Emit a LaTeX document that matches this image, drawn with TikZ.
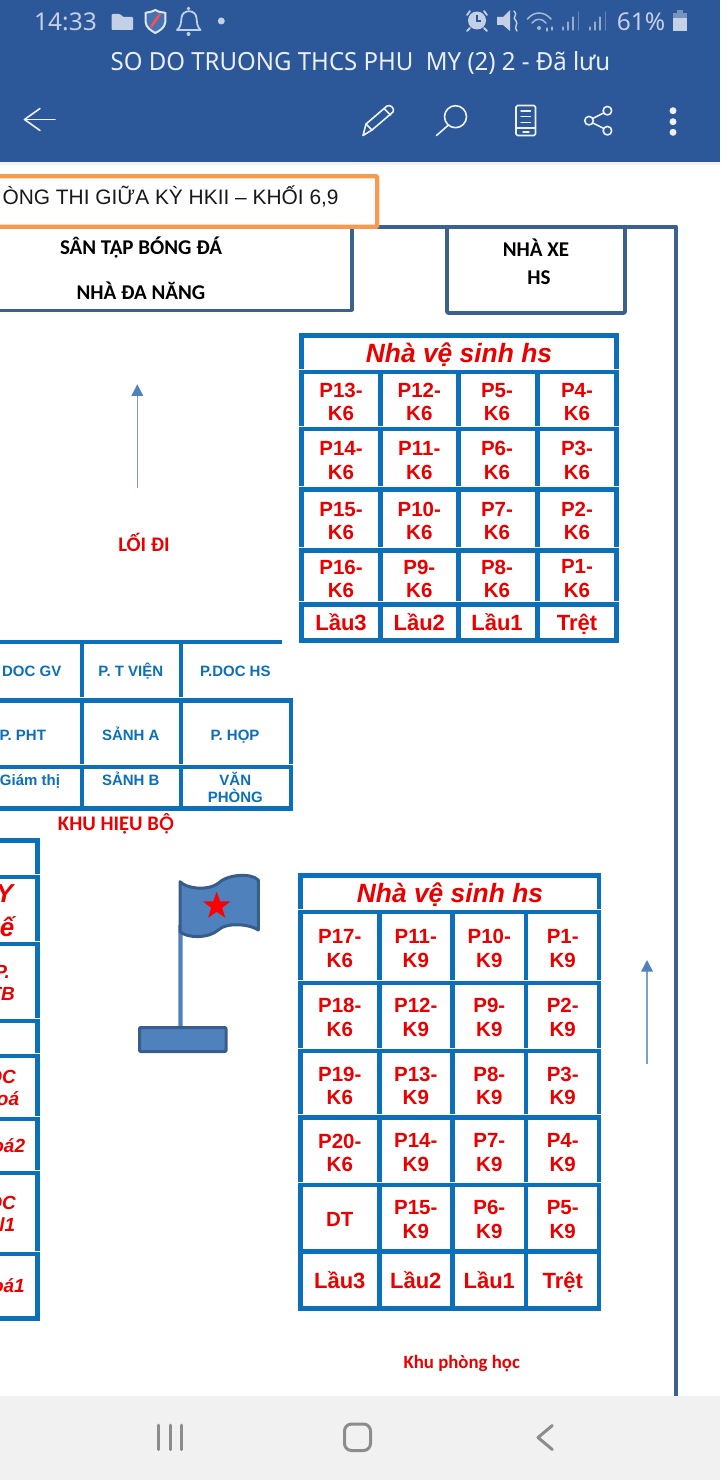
\documentclass[tikz,border=0pt]{standalone}
\usepackage{fontspec}
\setmainfont{Liberation Sans}
\newfontfamily\uifont{Noto Sans}
\newfontfamily\titlefont[FakeStretch=0.96]{Noto Sans}
\newfontfamily\calfont{Carlito}
\newfontfamily\latofont{Lato}
\usetikzlibrary{arrows.meta,shapes.geometric}
\definecolor{barblue}{HTML}{2C5799}
\definecolor{barpale}{HTML}{C3D0E6}
\definecolor{tableblue}{HTML}{0B6FBA}
\definecolor{wallblue}{HTML}{3B618F}
\definecolor{flagblue}{HTML}{4F81BD}
\definecolor{flagedge}{HTML}{385D8A}
\definecolor{boxorange}{HTML}{F79A4E}
\definecolor{navgrey}{HTML}{F1F1F1}
\tikzset{
	grid/.style={line width=4.5pt, color=tableblue},
	gap/.style={line width=0.5pt, color=white},
	wall/.style={line width=3.6pt, color=wallblue, line join=round},
	room/.style={font=\fontsize{20.5}{23.5}\selectfont\bfseries, color=red!92!black, align=center, inner sep=0pt},
	floorname/.style={font=\fontsize{22}{24}\selectfont\bfseries, color=red!92!black, inner sep=0pt, anchor=base},
	wctitle/.style={font=\fontsize{26.4}{28}\selectfont\bfseries\itshape, color=red!92!black, inner sep=0pt, anchor=base},
	office/.style={font=\fontsize{15}{16.7}\selectfont\bfseries, color=tableblue, align=center, inner sep=0pt, anchor=base},
	cutroom/.style={font=\fontsize{19}{22}\selectfont\bfseries\itshape, color=red!92!black, anchor=east, inner sep=0pt},
	calred/.style={font=\calfont\fontsize{20.7}{23}\selectfont\bfseries, color=red!92!black, inner sep=0pt, anchor=base},
	calblack/.style={font=\calfont\fontsize{21}{24}\selectfont\bfseries, color=black, inner sep=0pt, anchor=base},
	uparrow/.style={line width=1.5pt, color=flagblue!75, -{Triangle[length=11.5pt,width=11.5pt,color=flagblue]}},
	flagpart/.style={line width=3pt, color=flagedge, fill=flagblue, line join=round},
	uitext/.style={font=\uifont\fontsize{24.5}{26}\selectfont, color=barpale, inner sep=0pt, anchor=base},
	baricon/.style={line width=1.6pt, color=white!92!barblue, line cap=round, line join=round},
	paleicon/.style={line width=1.8pt, color=barpale, line cap=round, line join=round},
	navicon/.style={line width=3pt, color=black!45, line cap=round, line join=round}
}

\begin{document}
\begin{tikzpicture}[x=1pt, y=-1pt]
		\useasboundingbox (0, 0) rectangle (720, 1480);
		\fill[white] (0, 0) rectangle (720, 1480);
		
		%%%%% WALLS AND TOP LABELS %%%%%
		
		\draw[wall] (377, 226.8) -- (676, 226.8) -- (676, 1396);
		\draw[wall] (0, 310.3) -- (352, 310.3) -- (352, 226.8);
		\draw[wall, rounded corners=1pt] (447, 226.8) -- (447, 313) -- (625, 313) -- (625, 226.8);
		\node[calblack] (sanbong) at (141, 254.5) {SÂN TẬP BÓNG ĐÁ};
		\node[calblack] (nhadanang) at (141, 299.3) {NHÀ ĐA NĂNG};
		\node[calblack] (nhaxe) at (536, 256) {NHÀ XE};
		\node[calblack] (nhaxehs) at (539, 284.3) {HS};
		
		\draw[line width=4.2pt, color=boxorange, fill=white, rounded corners=1pt] (-5, 176.3) rectangle (377.3, 226.7);
		\node[font=\fontsize{20.9}{24}\selectfont, color=black!90, anchor=base west, inner sep=0pt] (tieude) at (2.3, 204) {ÒNG THI GIỮA KỲ HKII – KHỐI 6,9};
		
		%%%%% ARROWS %%%%%
		
		\coordinate (lanefrom) at (137.3, 488);
		\coordinate (laneto) at (137.3, 384.3);
		\draw[uparrow] (lanefrom) -- (laneto);
		\node[calred] (loidi) at (144, 551) {LỐI ĐI};
		\coordinate (sidefrom) at (647, 1064);
		\coordinate (sideto) at (647, 960);
		\draw[uparrow] (sidefrom) -- (sideto);
		
		%%%%% UPPER BLOCK %%%%%
		
		\draw[grid] (301.5, 335.5) rectangle (616.5, 640.5);
		\draw[grid] (299, 372) -- (619, 372);
		\draw[grid] (299, 429) -- (619, 429);
		\draw[grid] (299, 489.5) -- (619, 489.5);
		\draw[grid] (299, 550.5) -- (619, 550.5);
		\draw[grid] (299, 604.5) -- (619, 604.5);
		\draw[grid] (380.3, 372) -- (380.3, 640);
		\draw[grid] (458.3, 372) -- (458.3, 640);
		\draw[grid] (537.3, 372) -- (537.3, 640);
		\draw[gap] (299, 369.2) -- (619, 369.2);
		\draw[gap] (299, 426.2) -- (619, 426.2);
		\draw[gap] (299, 486.7) -- (619, 486.7);
		\draw[gap] (299, 547.7) -- (619, 547.7);
		\draw[gap] (299, 601.7) -- (619, 601.7);
		
		\node[wctitle] (vsA) at (459, 362.3) {Nhà vệ sinh hs};
		\node[room] (p13) at (341, 402) {P13-\\K6};
		\node[room] (p12) at (419.3, 402) {P12-\\K6};
		\node[room] (p5) at (497, 402) {P5-\\K6};
		\node[room] (p4) at (577, 402) {P4-\\K6};
		\node[room] (p14) at (341, 460.5) {P14-\\K6};
		\node[room] (p11) at (419.3, 460.5) {P11-\\K6};
		\node[room] (p6) at (497, 460.5) {P6-\\K6};
		\node[room] (p3) at (577, 460.5) {P3-\\K6};
		\node[room] (p15) at (341, 521) {P15-\\K6};
		\node[room] (p10) at (419.3, 521) {P10-\\K6};
		\node[room] (p7) at (497, 521) {P7-\\K6};
		\node[room] (p2) at (577, 521) {P2-\\K6};
		\node[room] (p16) at (341, 578.7) {P16-\\K6};
		\node[room] (p9) at (419.3, 578.7) {P9-\\K6};
		\node[room] (p8) at (497, 578.7) {P8-\\K6};
		\node[room] (p1) at (577, 578.7) {P1-\\K6};
		\node[floorname] (tangA3) at (341, 630) {Lầu3};
		\node[floorname] (tangA2) at (419.3, 630) {Lầu2};
		\node[floorname] (tangA1) at (497, 630) {Lầu1};
		\node[floorname] (tretA) at (577, 630) {Trệt};
		
		%%%%% LOWER BLOCK %%%%%
		
		\draw[grid] (300.3, 875.5) rectangle (599, 1308.3);
		\draw[grid] (298, 911.7) -- (601, 911.7);
		\draw[grid] (298, 982.7) -- (601, 982.7);
		\draw[grid] (298, 1050.7) -- (601, 1050.7);
		\draw[grid] (298, 1117.3) -- (601, 1117.3);
		\draw[grid] (298, 1184.7) -- (601, 1184.7);
		\draw[grid] (298, 1251.3) -- (601, 1251.3);
		\draw[grid] (379.3, 911.7) -- (379.3, 1308);
		\draw[grid] (452.3, 911.7) -- (452.3, 1308);
		\draw[grid] (526, 911.7) -- (526, 1308);
		\draw[gap] (298, 908.9) -- (601, 908.9);
		\draw[gap] (298, 979.9) -- (601, 979.9);
		\draw[gap] (298, 1047.9) -- (601, 1047.9);
		\draw[gap] (298, 1114.5) -- (601, 1114.5);
		\draw[gap] (298, 1181.9) -- (601, 1181.9);
		
		\node[wctitle] (vsB) at (450, 902.7) {Nhà vệ sinh hs};
		\node[room] (b17) at (339.8, 948.3) {P17-\\K6};
		\node[room] (b11) at (415.8, 948.3) {P11-\\K9};
		\node[room] (b10) at (489.3, 948.3) {P10-\\K9};
		\node[room] (b1) at (562.7, 948.3) {P1-\\K9};
		\node[room] (b18) at (339.8, 1017.5) {P18-\\K6};
		\node[room] (b12) at (415.8, 1017.5) {P12-\\K9};
		\node[room] (b9) at (489.3, 1017.5) {P9-\\K9};
		\node[room] (b2) at (562.7, 1017.5) {P2-\\K9};
		\node[room] (b19) at (339.8, 1085.7) {P19-\\K6};
		\node[room] (b13) at (415.8, 1085.7) {P13-\\K9};
		\node[room] (b8) at (489.3, 1085.7) {P8-\\K9};
		\node[room] (b3) at (562.7, 1085.7) {P3-\\K9};
		\node[room] (b20) at (339.8, 1152.7) {P20-\\K6};
		\node[room] (b14) at (415.8, 1152.7) {P14-\\K9};
		\node[room] (b7) at (489.3, 1152.7) {P7-\\K9};
		\node[room] (b4) at (562.7, 1152.7) {P4-\\K9};
		\node[room] (bdt) at (339.8, 1219.3) {DT};
		\node[room] (b15) at (415.8, 1219.3) {P15-\\K9};
		\node[room] (b6) at (489.3, 1219.3) {P6-\\K9};
		\node[room] (b5) at (562.7, 1219.3) {P5-\\K9};
		\node[floorname] (tangB3) at (339.8, 1288) {Lầu3};
		\node[floorname] (tangB2) at (415.8, 1288) {Lầu2};
		\node[floorname] (tangB1) at (489.3, 1288) {Lầu1};
		\node[floorname] (tretB) at (562.7, 1288) {Trệt};
		\node[calred, font=\calfont\fontsize{18.8}{21}\selectfont\bfseries] (khuhoc) at (461.7, 1368.3) {Khu phòng học};
		
		%%%%% OFFICES %%%%%
		
		\draw[grid] (0, 642) -- (281.7, 642);
		\draw[grid] (0, 700.3) -- (293, 700.3);
		\draw[grid] (0, 767) -- (293, 767);
		\draw[grid] (0, 808.3) -- (293, 808.3);
		\draw[grid] (82.2, 642) -- (82.2, 696.5);
		\draw[grid] (181.2, 642) -- (181.2, 696.5);
		\draw[grid] (82.2, 700.3) -- (82.2, 764);
		\draw[grid] (181.2, 700.3) -- (181.2, 764);
		\draw[grid] (82.2, 767) -- (82.2, 808);
		\draw[grid] (181.2, 767) -- (181.2, 808);
		\draw[grid] (291, 698) -- (291, 764);
		\draw[grid] (291, 765) -- (291, 810.5);
		
		\node[office] (docgv) at (31.7, 676.7) {DOC GV};
		\node[office] (tvien) at (130.8, 676.7) {P. T VIỆN};
		\node[office] (dochs) at (235.3, 676.7) {P.DOC HS};
		\node[office] (pht) at (22.8, 740.7) {P. PHT};
		\node[office] (sanha) at (130.8, 740.7) {SẢNH A};
		\node[office] (phop) at (235, 740.7) {P. HỌP};
		\node[office] (giamthi) at (30, 785) {Giám thị};
		\node[office] (sanhb) at (130.8, 785) {SẢNH B};
		\node[office, anchor=center] (vanphong) at (235.3, 787.3) {VĂN\\PHÒNG};
		\node[calred] (hieubo) at (116, 830) {KHU HIỆU B{\latofont\fontsize{18.6}{23}\selectfont Ộ}};
		
		%%%%% LEFT COLUMN %%%%%
		
		\draw[grid] (0, 840.5) -- (37.5, 840.5) -- (37.5, 1318.3) -- (0, 1318.3);
		\draw[grid] (0, 876.7) -- (40, 876.7);
		\draw[grid] (0, 943.3) -- (40, 943.3);
		\draw[grid] (0, 1021) -- (40, 1021);
		\draw[grid] (0, 1055.7) -- (40, 1055.7);
		\draw[grid] (0, 1118.3) -- (40, 1118.3);
		\draw[grid] (0, 1172.3) -- (40, 1172.3);
		\draw[grid] (0, 1253.3) -- (40, 1253.3);
		\draw[gap] (0, 874) -- (40, 874);
		\draw[gap] (0, 941) -- (40, 941);
		\draw[gap] (0, 1018.5) -- (40, 1018.5);
		\draw[gap] (0, 1053) -- (40, 1053);
		\draw[gap] (0, 1116) -- (40, 1116);
		\draw[gap] (0, 1170) -- (40, 1170);
		\draw[gap] (0, 1251) -- (40, 1251);
		
		\node[cutroom, font=\fontsize{26}{28}\selectfont\bfseries\itshape] (cutY) at (13.5, 894) {Y};
		\node[cutroom, font=\fontsize{26}{28}\selectfont\bfseries\itshape] (cutE) at (14.5, 927) {ế};
		\node[cutroom] (cutP) at (10, 972) {P.};
		\node[cutroom] (cutTB) at (15, 994) {TB};
		\node[cutroom] (cutOCa) at (16, 1077) {OC};
		\node[cutroom] (cutOA) at (19.3, 1099) {oá};
		\node[cutroom] (cutOB) at (25.3, 1146) {oá2};
		\node[cutroom] (cutOCb) at (16, 1203) {OC};
		\node[cutroom] (cutL) at (15.3, 1225) {l1};
		\node[cutroom] (cutOD) at (25, 1286) {oá1};
		
		%%%%% FLAG %%%%%
		
		\draw[line width=5pt, color=flagblue!65] (180.5, 925) -- (180.5, 1028);
		\draw[line width=3pt, color=flagblue] (180.5, 925) -- (180.5, 1028);
		\draw[flagpart, rounded corners=1pt] (139.5, 1027.5) rectangle (226, 1051.5);
		\draw[flagpart] (180, 881.7) .. controls (187, 889) and (208, 891) .. (218.3, 883.3) .. controls (226, 875) and (250, 872) .. (258.3, 880) -- (258.3, 930) .. controls (250, 924) and (226, 922) .. (218.3, 930) .. controls (208, 939) and (187, 938) .. (180, 931.7) -- cycle;
		\node[star, star points=5, star point ratio=2.5, fill=red, inner sep=0pt, minimum size=29pt] (redstar) at (216.7, 906) {};
		
		%%%%% PHONE BARS %%%%%
		
		\fill[black!5] (0, 162) rectangle (720, 165);
		\fill[barblue] (0, 0) rectangle (720, 162);
		\fill[navgrey] (0, 1396) rectangle (720, 1480);
		
		\node[uitext] (clock) at (65.5, 31) {14:33};
		\node[uitext] (battery) at (641, 31) {61\%};
		\node[uitext, font=\titlefont\fontsize{25}{27}\selectfont, color=white!90!barblue] (filename) at (360.5, 70.5) {SO DO TRUONG THCS PHU\ \ MY (2) 2 - Đã lưu};
		
		\fill[barpale, rounded corners=1pt] (111.6, 14) -- (120, 14) -- (123, 17) -- (133, 17) -- (133, 30) -- (111.6, 30) -- cycle;
		\draw[line width=2pt, color=white!85!barblue, fill=flagblue!70!barblue] (155.3, 10) .. controls (150, 13) and (146, 12) .. (145.5, 13) -- (145.5, 22) .. controls (146, 28) and (152, 31) .. (155.3, 33) .. controls (159, 31) and (165, 28) .. (165.3, 22) -- (165.3, 13) .. controls (164, 12) and (160, 13) .. (155.3, 10) -- cycle;
		\draw[line width=2.5pt, color=red!70!white] (151, 27) -- (160, 14);
		\draw[paleicon] (177, 30) .. controls (181, 27) and (181, 22) .. (181.5, 18) .. controls (182, 9) and (196, 9) .. (196.5, 18) .. controls (197, 22) and (197, 27) .. (200.5, 30) -- cycle;
		\fill[barpale] (188.5, 8.5) circle (1.8);
		\fill[barpale] (188.5, 34) circle (2);
		\fill[barpale] (221.3, 21) circle (3.5);
		
		\fill[barpale] (477, 20.5) circle (9);
		\draw[line width=1.5pt, color=barblue] (477, 15) -- (477, 21) -- (481, 21);
		\draw[paleicon] (467, 15) -- (470, 11);
		\draw[paleicon] (487, 15) -- (484, 11);
		\draw[paleicon] (470, 28) -- (467, 31);
		\draw[paleicon] (484, 28) -- (487, 31);
		\fill[barpale] (497, 17) -- (503, 17) -- (510, 10) -- (510, 31) -- (503, 25) -- (497, 25) -- cycle;
		\draw[paleicon, line width=1.4pt] (514, 11) .. controls (519, 15) and (511, 17) .. (516, 21) .. controls (519, 24) and (513, 27) .. (517, 31);
		\draw[paleicon, line width=1.5pt, opacity=0.8] (527.5, 19) .. controls (534, 11) and (544, 11) .. (551, 19);
		\draw[paleicon, line width=1.5pt, opacity=0.8] (532, 23) .. controls (536, 18) and (542, 18) .. (546, 23);
		\fill[barpale, opacity=0.8] (539, 28) circle (2);
		\draw[paleicon, line width=1.2pt, opacity=0.8] (547, 28) -- (547, 31);
		\draw[paleicon, line width=1.2pt, opacity=0.8] (552, 27) -- (552, 30);
		\draw[paleicon, line width=1.3pt, opacity=0.7] (563, 30) -- (563, 27);
		\draw[paleicon, line width=1.3pt, opacity=0.7] (568, 30) -- (568, 22);
		\draw[paleicon, line width=1.3pt, opacity=0.7] (573, 30) -- (573, 17);
		\draw[paleicon, line width=1.3pt, opacity=0.4] (578.5, 30) -- (578.5, 12);
		\draw[paleicon, line width=1.3pt, opacity=0.7] (590, 30) -- (590, 27);
		\draw[paleicon, line width=1.3pt, opacity=0.7] (595, 30) -- (595, 22);
		\draw[paleicon, line width=1.3pt, opacity=0.7] (600, 30) -- (600, 17);
		\draw[paleicon, line width=1.3pt, opacity=0.4] (605.5, 30) -- (605.5, 12);
		\fill[barpale, opacity=0.5] (673, 13.5) rectangle (687, 18.5);
		\fill[barpale, opacity=0.5] (677, 10) rectangle (683, 13.5);
		\fill[barpale] (673, 18.5) rectangle (687, 30.7);
		
		\draw[baricon] (40, 108.5) -- (24.5, 119.5) -- (40, 130.5);
		\draw[baricon] (24.5, 119.5) -- (55, 119.5);
		\draw[baricon] (363, 135.5) -- (366, 124) -- (387, 106) .. controls (391, 104) and (395, 109) .. (393, 112) -- (372, 130) -- cycle;
		\draw[baricon] (384, 108.5) -- (390.5, 115);
		\draw[baricon] (366, 124) -- (372, 130);
		\draw[baricon] (455.5, 116.7) circle (11);
		\draw[baricon] (448.5, 125) -- (436.5, 135.5);
		\draw[baricon, rounded corners=1.5pt] (516, 105.5) rectangle (535.5, 135.5);
		\draw[baricon, line width=1.4pt] (521, 111) -- (530.5, 111);
		\draw[baricon, line width=1.4pt] (521, 116.7) -- (530.5, 116.7);
		\draw[baricon, line width=1.4pt] (521, 122.3) -- (530.5, 122.3);
		\draw[baricon, line width=1.2pt] (516, 128) -- (535.5, 128);
		\draw[baricon, line width=1.4pt] (523, 132) -- (529, 132);
		\draw[baricon] (607.4, 110.7) circle (4.3);
		\draw[baricon] (589, 120.7) circle (4.3);
		\draw[baricon] (607.4, 130.7) circle (4.3);
		\draw[baricon] (592.8, 118.4) -- (603.6, 113);
		\draw[baricon] (592.8, 123) -- (603.6, 128.4);
		\fill[white!92!barblue] (673, 110.7) circle (3.5);
		\fill[white!92!barblue] (673, 121.7) circle (3.5);
		\fill[white!92!barblue] (673, 132.3) circle (3.5);
		
		\draw[navicon] (158.4, 1425) -- (158.4, 1449.5);
		\draw[navicon] (170.6, 1425) -- (170.6, 1449.5);
		\draw[navicon] (181.4, 1425) -- (181.4, 1449.5);
		\draw[navicon, rounded corners=7pt] (344.5, 1424) rectangle (370.5, 1450.5);
		\draw[navicon] (552.3, 1425.5) -- (538, 1437.5) -- (552.3, 1449.5);
		
		%%%%% END %%%%%
	\end{tikzpicture}
\end{document}
